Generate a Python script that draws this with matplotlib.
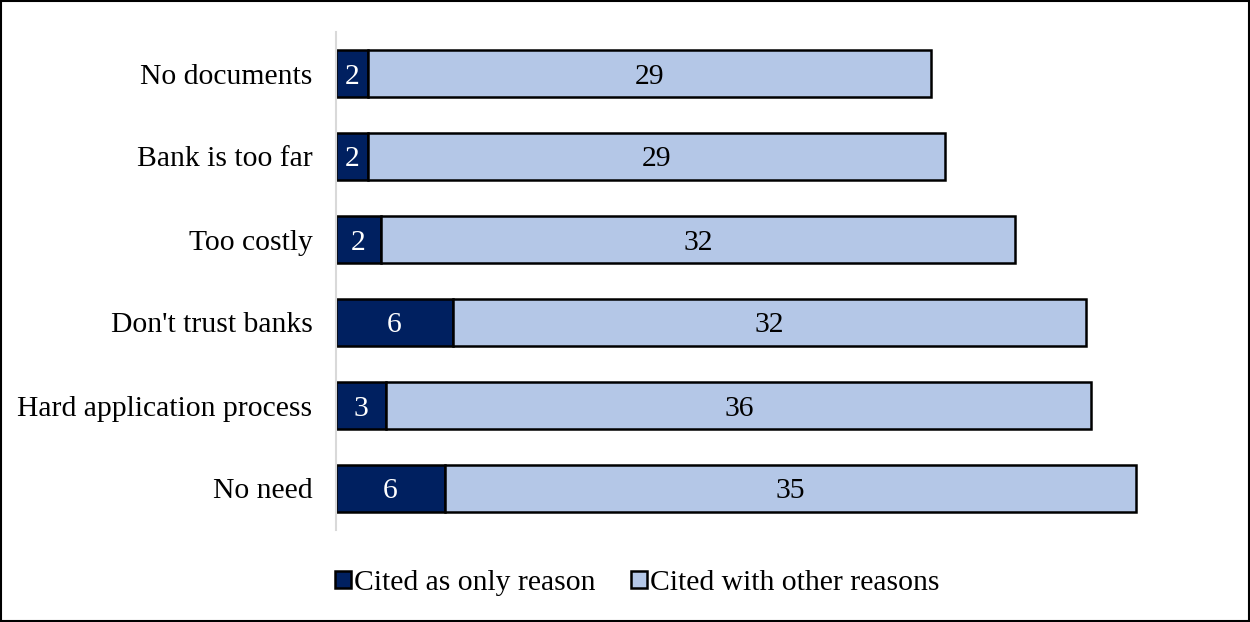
import matplotlib
matplotlib.use("Agg")
import matplotlib.pyplot as plt
from matplotlib.patches import Rectangle

# Reasons for not having a bank account (top to bottom)
reasons = ["No documents", "Bank is too far", "Too costly",
           "Don't trust banks", "Hard application process", "No need"]
only_reason = [1.65, 1.65, 2.30, 5.97, 2.57, 5.56]
with_other = [28.70, 29.40, 32.35, 32.30, 35.95, 35.25]
series_names = ["Cited as only reason", "Cited with other reasons"]

DARK = "#002060"
LIGHT = "#B4C7E7"

plt.rcParams["font.family"] = ["Liberation Serif", "DejaVu Serif"]
FS = 21.3

fig = plt.figure(figsize=(12.5, 6.22), dpi=100)
ax = fig.add_axes([336 / 1250, 1 - 530 / 622, (1230 - 336) / 1250, 498 / 622])

y = list(range(len(reasons)))
bar_h = 0.555
b1 = ax.barh(y, only_reason, height=bar_h, color=DARK, edgecolor="black",
             linewidth=1.8, label=series_names[0])
b2 = ax.barh(y, with_other, left=only_reason, height=bar_h, color=LIGHT,
             edgecolor="black", linewidth=1.8, label=series_names[1])

for i in y:
    ax.text(only_reason[i] / 2, i, f"{only_reason[i]:.0f}", ha="center",
            va="center_baseline", color="white", fontsize=FS)
    ax.text(only_reason[i] + with_other[i] / 2, i, f"{with_other[i]:.0f}",
            ha="center", va="center_baseline", color="black", fontsize=FS)

ax.set_xlim(0, 45.6)
ax.set_ylim(len(reasons) - 0.5, -0.5)
ax.set_yticks(y)
ax.set_yticklabels(reasons, fontsize=FS)
ax.tick_params(axis="y", length=0, pad=17)
ax.set_xticks([])
for side in ["top", "right", "bottom"]:
    ax.spines[side].set_visible(False)
ax.spines["left"].set_color("#d9d9d9")
ax.spines["left"].set_linewidth(1.5)

leg = fig.legend(handles=[b1, b2], labels=series_names, loc="center",
                 bbox_to_anchor=(637 / 1250, 1 - 583 / 622), ncol=2,
                 frameon=False, fontsize=FS, handlelength=0.55,
                 handleheight=0.55, handletextpad=0.1, columnspacing=1.2)

# Outer frame around the whole chart
fig.patches.append(Rectangle((0.0008, 0.0016), 0.9984, 0.9968,
                             transform=fig.transFigure, fill=False,
                             edgecolor="black", linewidth=1.5))

fig.savefig("out.png", dpi=100)
